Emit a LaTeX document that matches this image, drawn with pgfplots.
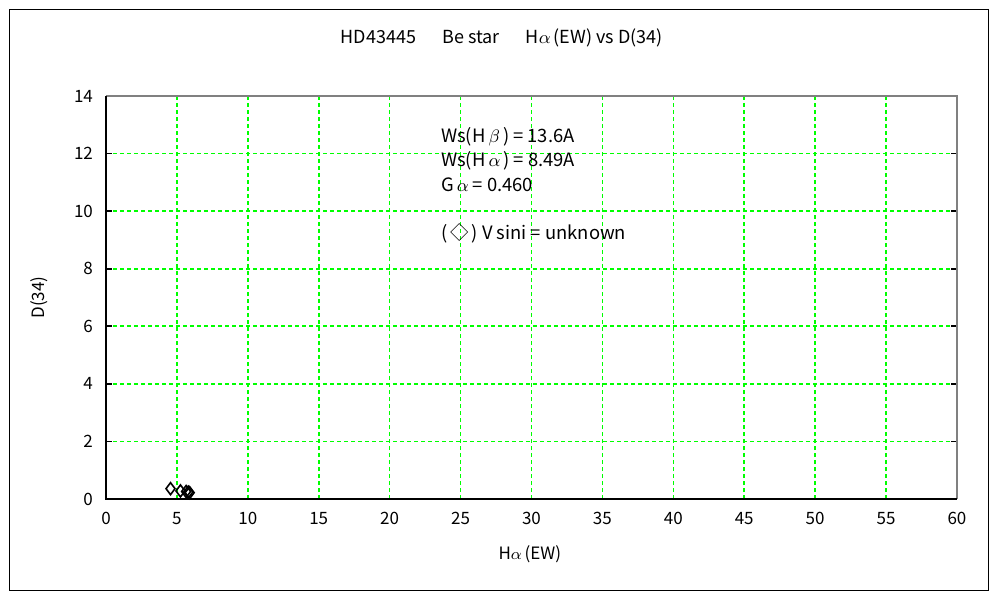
\documentclass[border=0pt]{standalone}
\usepackage{pgfplots}
\pgfplotsset{compat=1.18}
\usepackage{fontspec}
\setmainfont{Noto Sans CJK JP}
\definecolor{gridgreen}{RGB}{0,255,0}
\definecolor{framegray}{RGB}{128,128,128}
\begin{document}
\begin{tikzpicture}[x=1pt,y=1pt]
\fill[white] (-53,-50.5) rectangle (447,249.5);
\draw[black,line width=0.5pt] (-48,-45.5) rectangle (441,244.5);
\begin{axis}[
  at={(0,0)}, anchor=south west,
  scale only axis, width=425.5pt, height=201.5pt,
  xmin=0, xmax=60, ymin=0, ymax=14,
  xtick={0,5,...,60}, ytick={0,2,...,14},
  /pgf/number format/assume math mode=true,
  tick label style={font=\fontsize{8.5}{10}\selectfont},
  xticklabel style={yshift=-3pt},
  yticklabel style={xshift=-3pt},
  tick align=inside, major tick length=3pt,
  xtick style={draw=none},
  ytick style={black, line width=0.8pt},
  xmajorgrids, ymajorgrids,
  grid style={gridgreen, line width=0.8pt, dash pattern=on 2pt off 1.5pt},
  axis line style={draw=none},
  clip=false,
  xlabel={H$\alpha$\,(EW)}, ylabel={D(34)},
  label style={font=\fontsize{8.5}{10}\selectfont},
  xlabel style={at={(rel axis cs:0.498,0)}, anchor=north, yshift=-20pt},
  ylabel style={yshift=6pt},
  title={HD43445\quad\ \ Be star\quad\ \ H$\alpha$\,(EW) vs D(34)},
  title style={font=\fontsize{9}{10}\selectfont, at={(rel axis cs:0.465,1)}, yshift=15pt},
]
\draw[framegray, line width=1.2pt] (rel axis cs:0,1) -- (rel axis cs:1,1) -- (rel axis cs:1,0);
\draw[black, line width=0.9pt] (rel axis cs:0,1) -- (rel axis cs:0,0) -- (rel axis cs:1,0);
\addplot[only marks, mark=diamond, mark size=3pt, mark options={black, line width=0.8pt, fill=white}]
  coordinates {(4.55,0.36) (5.25,0.28) (5.65,0.26) (5.8,0.24) (5.9,0.22)};
\begin{scope}[every node/.style={anchor=west, inner sep=0pt, font=\fontsize{9.2}{10}\selectfont}]
\node at (axis cs:23.6,12.57) {Ws(H\,$\beta$\,) = 13.6A};
\node at (axis cs:23.6,11.74) {Ws(H\,$\alpha$\,) = 8.49A};
\node at (axis cs:23.6,10.9) {G\,$\alpha$ = 0.460};
\node at (axis cs:23.6,9.24) {(\,◇\,) V sini = unknown};
\end{scope}
\end{axis}
\end{tikzpicture}
\end{document}
